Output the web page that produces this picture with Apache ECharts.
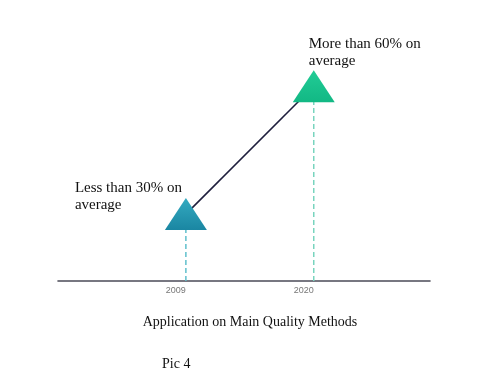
<!DOCTYPE html>
<html><head><meta charset="utf-8">
<script src="https://cdn.jsdelivr.net/npm/echarts@6/dist/echarts.min.js"></script>
<style>html,body{margin:0;padding:0;background:#fff}#c{width:500px;height:376px}</style>
</head><body><div id="c"></div>
<script>
const years = [2009, 2020];
const values = [30, 60];
const pointLabels = ['Less than 30% on\naverage', 'More than 60% on\naverage'];
const tickLabels = [2009, 2020];
const titleText = 'Application on Main Quality Methods';
const captionText = 'Pic 4';

const yMin = 14.3, yMax = 80;
const triTop = ['#34aac0', '#22cc96'];
const triBottom = ['#1a86a2', '#12b884'];
const dashColors = ['#5fbfcc', '#78d4be'];
const labelPos = [[-90, -19], [16, -35]];

const chart = echarts.init(document.getElementById('c'), null, {renderer: 'canvas'});
const series = [];
years.forEach((y, i) => {
  series.push({
    type: 'line', z: 1, symbol: 'none', silent: true,
    data: [[y, yMin], [y, values[i]]],
    lineStyle: {color: dashColors[i], width: 1.5, type: [5, 3]}
  });
});
series.push({
  type: 'line', z: 2, symbol: 'none', silent: true,
  data: years.map((y, i) => [y, values[i]]),
  lineStyle: {color: '#1f1f3d', width: 1.6}
});
series.push({
  type: 'scatter', z: 3, symbol: 'triangle', symbolSize: [42, 32],
  data: years.map((y, i) => ({
    value: [y, values[i]],
    itemStyle: {opacity: 1, color: new echarts.graphic.LinearGradient(0, 0, 0, 1, [
      {offset: 0, color: triTop[i]}, {offset: 1, color: triBottom[i]}])},
    label: {
      show: true, position: labelPos[i], align: 'left', verticalAlign: 'top',
      formatter: pointLabels[i], fontFamily: 'Liberation Serif', fontSize: 15,
      lineHeight: 17, color: '#111', opacity: 1
    }
  }))
});

chart.setOption({
  animation: false,
  grid: {left: 58, right: 70, top: 1, bottom: 95},
  xAxis: {
    type: 'value', min: 1998, max: 2030,
    axisLine: {show: true, lineStyle: {color: '#4b4b58', width: 1.6}},
    axisTick: {show: false}, splitLine: {show: false},
    axisLabel: {
      customValues: tickLabels, align: 'right', margin: 5,
      formatter: v => String(v),
      fontFamily: 'Liberation Sans', fontSize: 9, color: '#777'
    }
  },
  yAxis: {type: 'value', min: yMin, max: yMax, show: false, splitLine: {show: false}},
  graphic: [
    {type: 'text', left: 'center', top: 315, style: {text: titleText, font: '14px "Liberation Serif"', fill: '#111'}},
    {type: 'text', left: 162, top: 357, style: {text: captionText, font: '14px "Liberation Serif"', fill: '#111'}}
  ],
  series: series
});
</script></body></html>
